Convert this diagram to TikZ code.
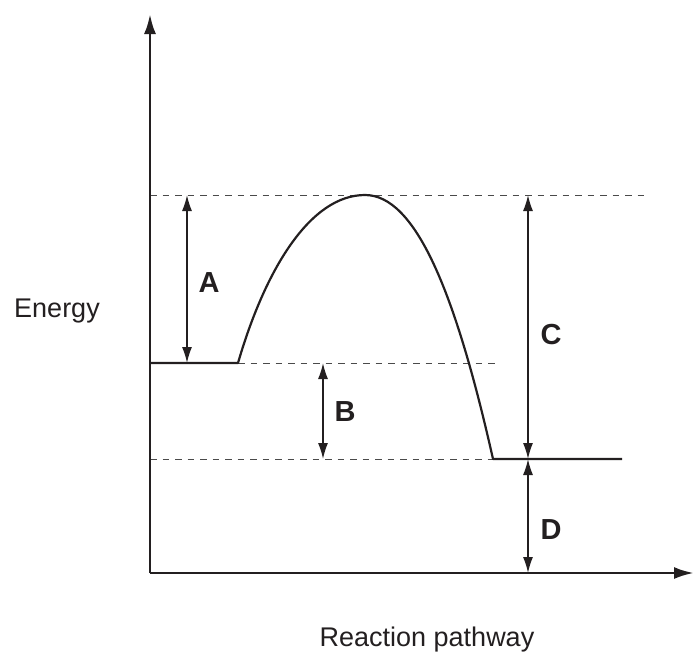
\documentclass[tikz,border=0pt]{standalone}
\usepackage{fontspec}
\setmainfont{Liberation Sans}
\usetikzlibrary{arrows.meta}

\begin{document}
\begin{tikzpicture}[x=1pt,y=-1pt,
  guide/.style={draw=levelGrey,line width=0.9pt,dash pattern=on 6.5pt off 6pt},
  gap/.style={{Latex[length=16pt,width=10pt]}-{Latex[length=16pt,width=10pt]},line width=1.4pt,draw=inkBlack},
  letter/.style={font=\fontsize{29}{32}\selectfont\bfseries},
  axislabel/.style={font=\fontsize{27}{32}\selectfont}]
\definecolor{inkBlack}{HTML}{231F20}
\definecolor{levelGrey}{HTML}{4A4A4A}
\useasboundingbox (0,0) rectangle (694,659);
% levels
\coordinate (origin) at (150,573);
\coordinate (ytip) at (150,14);
\coordinate (xtip) at (694,573);
\coordinate (reactL) at (150,363);
\coordinate (reactR) at (238,363);
\coordinate (peak) at (365,195);
\coordinate (prodL) at (493,459);
\coordinate (prodR) at (622,459);
% dashed guides
\coordinate (topL) at (150,195);
\coordinate (topR) at (648,195);
\coordinate (midR) at (497,363);
\coordinate (lowL) at (150,459);
\draw[guide] (topL) -- (topR);
\draw[guide] (reactR) -- (midR);
\draw[guide] (lowL) -- (prodL);
% axes
\draw[inkBlack,line width=2.8pt,-{Latex[length=20pt,width=12pt]}] (origin) -- (ytip);
\draw[inkBlack,line width=2.8pt,-{Latex[length=20pt,width=12pt]}] (origin) -- (xtip);
% energy profile
\draw[inkBlack,line width=2.2pt,line join=round] (reactL) -- (reactR)
  .. controls (265,270) and (310,195) .. (peak)
  .. controls (415,195) and (455,290) .. (prodL) -- (prodR);
% gaps
\coordinate (aTop) at (187,195);
\coordinate (aBot) at (187,363);
\coordinate (bTop) at (323,363);
\coordinate (bBot) at (323,459);
\coordinate (cTop) at (528,195);
\coordinate (cBot) at (528,459);
\coordinate (dBot) at (528,573);
\draw[gap] (aTop) -- (aBot);
\draw[gap] (bTop) -- (bBot);
\draw[gap] (cTop) -- (cBot);
\draw[gap] (cBot) -- (dBot);
\foreach \nm/\x/\y in {A/209/283,B/345/412,C/551/335,D/551/530} {
  \node[letter,inkBlack] (lab\nm) at (\x,\y) {\nm};
}
\node[axislabel,inkBlack] (energy) at (57,311) {Energy};
\node[axislabel,inkBlack] (pathway) at (427,640) {Reaction pathway};
\end{tikzpicture}
\end{document}
